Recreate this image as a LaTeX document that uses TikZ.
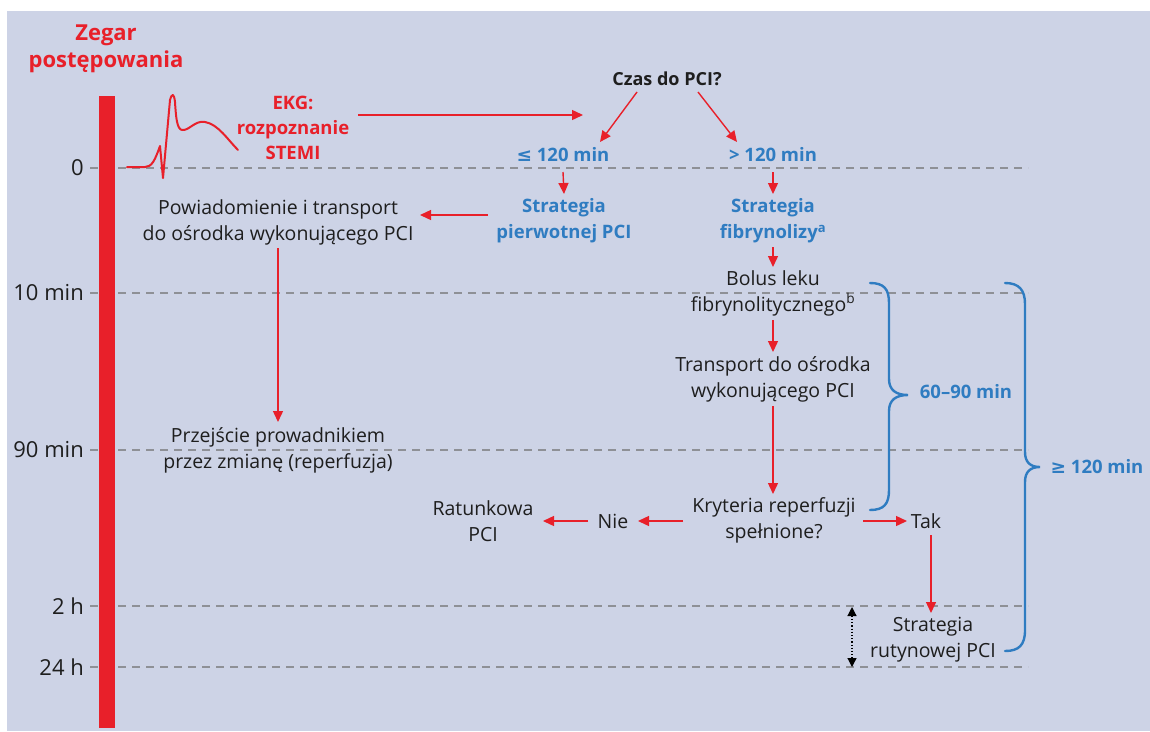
\documentclass[tikz,border=0pt]{standalone}
\usepackage{fontspec}
\setmainfont{Open Sans}
\newfontfamily\symfont{DejaVu Sans}
\usetikzlibrary{arrows.meta}
\definecolor{bgc}{HTML}{CDD3E6}
\definecolor{clockred}{HTML}{E8202A}
\definecolor{stratblue}{HTML}{2F7CC1}
\definecolor{gridgray}{HTML}{8E9096}
\definecolor{ink}{HTML}{1E1E1E}

\begin{document}
\begin{tikzpicture}[x=1pt,y=-1pt,
  every node/.style={inner sep=0pt, align=center, text=ink,
    font=\fontsize{19.5}{26}\selectfont},
  bluetext/.style={text=stratblue, font=\fontsize{18.5}{26}\selectfont\bfseries},
  redtext/.style={text=clockred, font=\fontsize{18.5}{25}\selectfont\bfseries},
  ticklabel/.style={anchor=east, font=\fontsize{22}{26}\selectfont},
  flow/.style={draw=clockred, line width=1.4pt,
    -{Triangle[length=11pt,width=10pt]}},
  gridline/.style={draw=gridgray, line width=1.2pt, dash pattern=on 8pt off 6pt},
  brace/.style={draw=stratblue, line width=2.4pt, line cap=round},
  span/.style={draw=black, line width=1.2pt, dotted,
    {Triangle[length=9pt,width=9pt]}-{Triangle[length=9pt,width=9pt]}}
]
\useasboundingbox (0,0) rectangle (1150,731);
\fill[white] (0,0) rectangle (1150,731);
\fill[bgc] (7,11) rectangle (1150,731);

% time grid
\foreach \yy/\lab [count=\i] in {168/0, 293/10 min, 450/90 min, 606/2 h, 667/24 h}{
  \draw[gridline] (90,\yy) -- (1028,\yy);
  \node[ticklabel] (t\i) at (84,\yy) {\lab};
}

% the clock bar and its title
\fill[clockred] (99,96) rectangle (115,728);
\node[text=clockred, font=\fontsize{22}{27}\selectfont\bfseries] (title) at (106,49)
  {Zegar\\postępowania};

% ECG trace
\draw[clockred, line width=2pt, line join=round, line cap=round]
  (127,167) -- (145,167) .. controls (152,167) and (155,160) .. (160,146)
  -- (163,178) -- (170,100) .. controls (172,93) and (174,93) .. (175,102)
  .. controls (176,118) and (177,129) .. (182,130)
  .. controls (189,131) and (195,120) .. (205,122)
  .. controls (218,124) and (228,140) .. (238,150);

% nodes
\node[redtext] (ekg) at (293,128) {EKG:\\rozpoznanie\\STEMI};
\node[font=\fontsize{18}{26}\selectfont\bfseries] (czas) at (667,79) {Czas do PCI?};
\node[bluetext] (le) at (563,155) {{\symfont ≤} 120 min};
\node[bluetext] (gt) at (773,155) {> 120 min};
\node[bluetext] (spci) at (564,221) {Strategia\\pierwotnej PCI};
\node[bluetext] (sfib) at (773,221) {Strategia\\fibrynolizy\textsuperscript{a}};
\node (pow) at (278,222) {Powiadomienie i transport\\do ośrodka wykonującego PCI};
\node (prz) at (278,450) {Przejście prowadnikiem\\przez zmianę (reperfuzja)};
\node (bolus) at (773,293) {Bolus leku\\fibrynolitycznego\textsuperscript{b}};
\node (trans) at (773,379) {Transport do ośrodka\\wykonującego PCI};
\node (kryt) at (774,520) {Kryteria reperfuzji\\spełnione?};
\node (nie) at (613,521) {Nie};
\node (rat) at (483,521) {Ratunkowa\\PCI};
\node (tak) at (926,521) {Tak};
\node (rut) at (933,640) {Strategia\\rutynowej PCI};
\node[bluetext] (lab60) at (966,392) {60–90 min};
\node[bluetext] (lab120) at (1097,467) {{\symfont ≥} 120 min};

% connectors
\coordinate (ekgend) at (583,115);
\draw[flow] ([shift={(65,-13)}]ekg.center) -- (ekgend);
\draw[flow] ([shift={(-30,13)}]czas.center) -- ([shift={(37,-13)}]le.center);
\draw[flow] ([shift={(31,13)}]czas.center) -- ([shift={(-36,-13)}]gt.center);
\draw[flow] ([shift={(0,17)}]le.center) -- ([shift={(0,-27)}]spci.center);
\draw[flow] ([shift={(0,17)}]gt.center) -- ([shift={(0,-27)}]sfib.center);
\draw[flow] ([shift={(-76,-6)}]spci.center) -- ([shift={(142,-7)}]pow.center);
\draw[flow] ([shift={(0,26)}]pow.center) -- ([shift={(0,-28)}]prz.center);
\draw[flow] ([shift={(0,26)}]sfib.center) -- ([shift={(0,-26)}]bolus.center);
\draw[flow] ([shift={(0,27)}]bolus.center) -- ([shift={(0,-27)}]trans.center);
\draw[flow] ([shift={(0,27)}]trans.center) -- ([shift={(-1,-26)}]kryt.center);
\draw[flow] ([shift={(-91,1)}]kryt.center) -- ([shift={(25,0)}]nie.center);
\draw[flow] ([shift={(-25,0)}]nie.center) -- ([shift={(60,0)}]rat.center);
\draw[flow] ([shift={(89,1)}]kryt.center) -- ([shift={(-19,0)}]tak.center);
\draw[flow] ([shift={(5,14)}]tak.center) -- ([shift={(-2,-27)}]rut.center);

% interval between 2 h and 24 h
\coordinate (spantop) at (852,607);
\coordinate (spanbot) at (852,667);
\draw[span] (spantop) -- (spanbot);

% braces
\draw[brace] (870,283) .. controls (884,283) and (889,289) .. (889,303)
  -- (889,379) .. controls (889,390) and (896,395) .. (908,395)
  .. controls (896,395) and (889,400) .. (889,411)
  -- (889,490) .. controls (889,504) and (884,510) .. (870,510);
\draw[brace] (1005,283) .. controls (1019,283) and (1025,290) .. (1025,304)
  -- (1025,452) .. controls (1025,462) and (1030,467) .. (1040,467)
  .. controls (1030,467) and (1025,472) .. (1025,482)
  -- (1025,630) .. controls (1025,645) and (1019,651) .. (1005,651);
\end{tikzpicture}
\end{document}
